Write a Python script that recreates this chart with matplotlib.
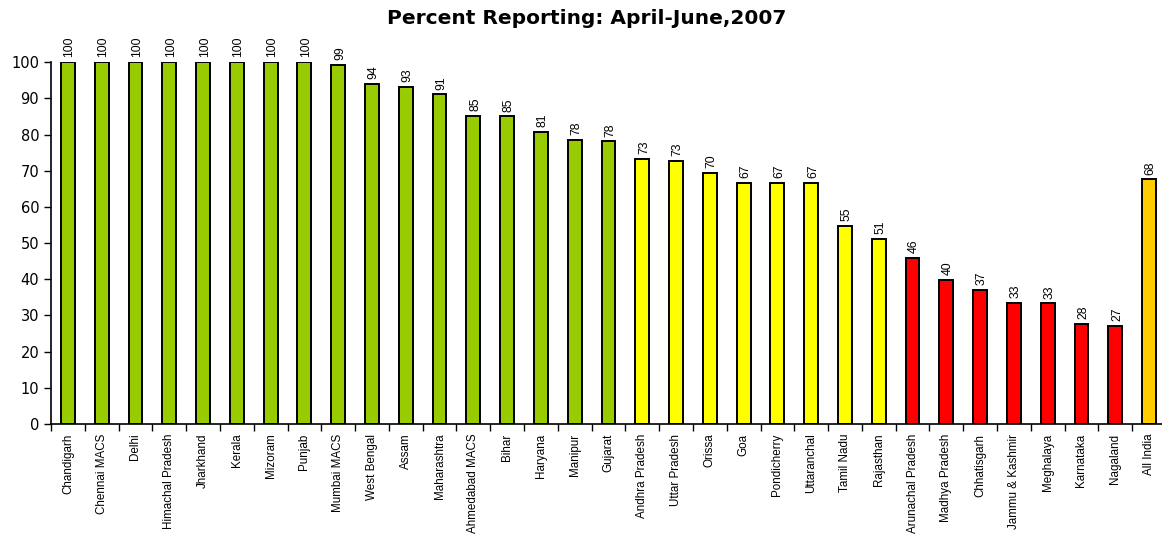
import numpy as np
import matplotlib
matplotlib.use("Agg")
import matplotlib.pyplot as plt

plt.rcParams['font.family'] = ['Liberation Sans', 'DejaVu Sans']

states = ["Chandigarh", "Chennai MACS", "Delhi", "Himachal Pradesh", "Jharkhand",
          "Kerala", "Mizoram", "Punjab", "Mumbai MACS", "West Bengal", "Assam",
          "Maharashtra", "Ahmedabad MACS", "Bihar", "Haryana", "Manipur", "Gujarat",
          "Andhra Pradesh", "Uttar Pradesh", "Orissa", "Goa", "Pondicherry",
          "Uttaranchal", "Tamil Nadu", "Rajasthan", "Arunachal Pradesh",
          "Madhya Pradesh", "Chhatisgarh", "Jammu & Kashmir", "Meghalaya",
          "Karnataka", "Nagaland", "All India"]
percent = [100, 100, 100, 100, 100, 100, 100, 100, 99.3, 94.1, 93.1, 91.1, 85.2,
           85.0, 80.7, 78.5, 78.1, 73.3, 72.8, 69.5, 66.7, 66.7, 66.7, 54.8, 51.1,
           45.9, 39.8, 37.0, 33.4, 33.3, 27.6, 27.1, 67.6]

# colour band per bar: >=75 green, 50-75 yellow, <50 red, national figure orange
def band(name, v):
    if name == "All India":
        return "#FFCC00"
    if v >= 75:
        return "#99CC00"
    if v >= 50:
        return "#FFFF00"
    return "#FF0000"

colors = [band(s, v) for s, v in zip(states, percent)]

fig = plt.figure(figsize=(11.62, 5.36), dpi=100)
ax = fig.add_axes([0.0439, 0.209, 0.9595, 0.675])

x = np.arange(len(states))
bars = ax.bar(x, percent, width=0.41, color=colors, edgecolor="black", linewidth=1.4)

for xi, v in zip(x, percent):
    ax.text(xi + 0.05, v + 1.3, f"{v:.0f}", rotation=90, ha="center", va="bottom",
            fontsize=8.8, clip_on=False)

ax.set_xlim(-0.5, len(states) - 0.5)
ax.set_ylim(0, 100)
ax.set_yticks(np.arange(0, 101, 10))
ax.set_yticklabels([str(t) for t in range(0, 101, 10)], family="DejaVu Sans")
ax.tick_params(axis="y", labelsize=10.5, length=5, width=1, direction="out")

ax.set_xticks(x)
ax.set_xticklabels(states, rotation=90, fontsize=8.4)
ax.tick_params(axis="x", which="major", length=0, pad=7)
ax.set_xticks(np.arange(-0.5, len(states), 1), minor=True)
ax.tick_params(axis="x", which="minor", length=5, width=1, direction="out")

for side in ["top", "right"]:
    ax.spines[side].set_visible(False)
for side in ["left", "bottom"]:
    ax.spines[side].set_linewidth(1.2)

fig.suptitle("Percent Reporting: April-June,2007", fontsize=14.5, fontweight="bold",
             family="DejaVu Sans", x=0.505, y=0.984)

fig.savefig("out.png", dpi=100)
